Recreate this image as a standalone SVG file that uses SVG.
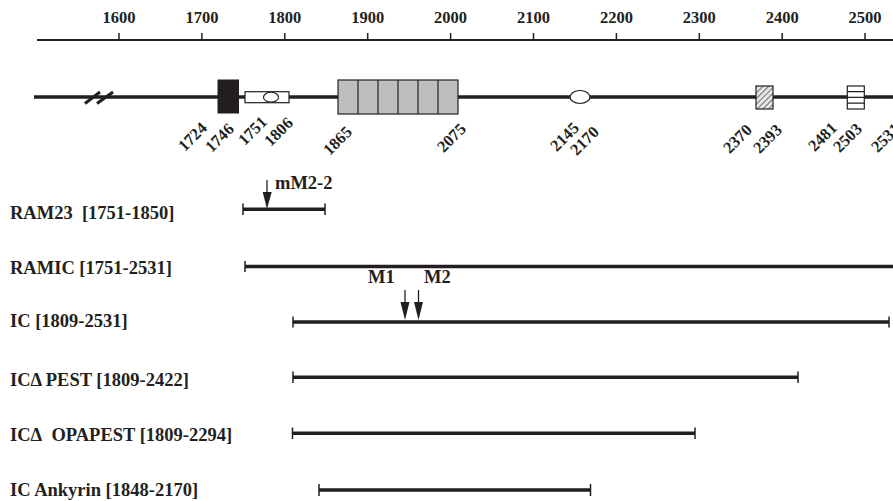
<svg xmlns="http://www.w3.org/2000/svg" width="893" height="501" viewBox="0 0 893 501">
<style>
text{font-family:"Liberation Serif","Times New Roman",serif;font-weight:bold;fill:#231f20}
.ax{font-size:16.5px;text-anchor:middle}
.rot{font-size:16.5px;text-anchor:end}
.lbl{font-size:18.5px}
.ln{stroke:#231f20;fill:none}
.bar{stroke:#231f20;stroke-width:3.5;fill:none}
.tk{stroke:#231f20;stroke-width:1.5;fill:none}
</style>
<defs>
<pattern id="hatch" width="4" height="4" patternUnits="userSpaceOnUse" patternTransform="rotate(45)">
<rect width="4" height="4" fill="#e6e6e6"/>
<line x1="0" y1="0" x2="0" y2="4" stroke="#231f20" stroke-width="1.2"/>
</pattern>
</defs>
<g id="axis">
<line class="ln" x1="37" y1="40" x2="893" y2="40" stroke-width="1.8"/>
<g class="tk">
<line x1="119" y1="33" x2="119" y2="40"/><line x1="201.9" y1="33" x2="201.9" y2="40"/><line x1="284.8" y1="33" x2="284.8" y2="40"/><line x1="367.7" y1="33" x2="367.7" y2="40"/><line x1="450.6" y1="33" x2="450.6" y2="40"/><line x1="533.5" y1="33" x2="533.5" y2="40"/><line x1="616.4" y1="33" x2="616.4" y2="40"/><line x1="699.3" y1="33" x2="699.3" y2="40"/><line x1="782.2" y1="33" x2="782.2" y2="40"/><line x1="865" y1="33" x2="865" y2="40"/>
</g>
<text class="ax" x="119" y="23">1600</text><text class="ax" x="201.9" y="23">1700</text><text class="ax" x="284.8" y="23">1800</text><text class="ax" x="367.7" y="23">1900</text><text class="ax" x="450.6" y="23">2000</text><text class="ax" x="533.5" y="23">2100</text><text class="ax" x="616.4" y="23">2200</text><text class="ax" x="699.3" y="23">2300</text><text class="ax" x="782.2" y="23">2400</text><text class="ax" x="865" y="23">2500</text>
</g>
<g id="protein">
<line class="ln" x1="34" y1="97" x2="893" y2="97" stroke-width="3.5"/>
<line class="ln" x1="85" y1="103.5" x2="100" y2="92" stroke-width="3"/>
<line class="ln" x1="97" y1="103.5" x2="113" y2="92" stroke-width="3"/>
</g>
<g id="domain-1724-1746"><rect x="217.5" y="79.5" width="21.5" height="34" fill="#231f20"/></g>
<g id="domain-1751-1806"><rect x="245" y="91.7" width="44" height="11" fill="#fff" stroke="#231f20" stroke-width="1.2"/><ellipse cx="271" cy="97.2" rx="7.5" ry="5" fill="#fff" stroke="#231f20" stroke-width="1.2"/></g>
<g id="domain-1865-2075"><rect x="338" y="80" width="120" height="34" fill="#bcbec0" stroke="#231f20" stroke-width="1.2"/><path class="ln" stroke-width="1.2" d="M358 80V114M378 80V114M398 80V114M418 80V114M438 80V114"/></g>
<g id="domain-2145-2170"><ellipse cx="580" cy="97" rx="10" ry="6.5" fill="#fff" stroke="#231f20" stroke-width="1.2"/></g>
<g id="domain-2370-2393"><rect x="756" y="86" width="17" height="23" fill="url(#hatch)" stroke="#231f20" stroke-width="1.2"/></g>
<g id="domain-2481-2503"><rect x="847.3" y="86" width="17" height="23" fill="#fff" stroke="#231f20" stroke-width="1.2"/><path class="ln" stroke-width="1.2" d="M847.3 91.7H864.3M847.3 97.3H864.3M847.3 103.2H864.3"/></g>
<g id="positions">
<text class="rot" transform="translate(208,129) rotate(-45)">1724</text>
<text class="rot" transform="translate(235,130) rotate(-45)">1746</text>
<text class="rot" transform="translate(268,123) rotate(-45)">1751</text>
<text class="rot" transform="translate(294,124) rotate(-45)">1806</text>
<text class="rot" transform="translate(353,133) rotate(-45)">1865</text>
<text class="rot" transform="translate(467,130) rotate(-45)">2075</text>
<text class="rot" transform="translate(580,129) rotate(-45)">2145</text>
<text class="rot" transform="translate(600,133) rotate(-45)">2170</text>
<text class="rot" transform="translate(753,131) rotate(-45)">2370</text>
<text class="rot" transform="translate(783,131) rotate(-45)">2393</text>
<text class="rot" transform="translate(838,129) rotate(-45)">2481</text>
<text class="rot" transform="translate(863,130) rotate(-45)">2503</text>
<text class="rot" transform="translate(901,130) rotate(-45)">2531</text>
</g>
<g id="RAM23">
<text class="lbl" x="10" y="219">RAM23&#160; [1751-1850]</text>
<line class="bar" x1="243" y1="209.3" x2="325" y2="209.3"/>
<path class="tk" d="M243 203.5V215M325 203.5V215"/>
<line class="ln" x1="267" y1="180" x2="267" y2="194" stroke-width="1.3"/>
<polygon points="262.7,192 271.7,192 267,209" fill="#231f20"/>
<text class="lbl" x="275" y="189">mM2-2</text>
</g>
<g id="RAMIC">
<text class="lbl" x="10" y="274">RAMIC [1751-2531]</text>
<line class="bar" x1="245" y1="266.5" x2="893" y2="266.5"/>
<path class="tk" d="M245 261V272"/>
</g>
<g id="IC">
<text class="lbl" x="10" y="327">IC [1809-2531]</text>
<line class="bar" x1="293" y1="322" x2="889" y2="322"/>
<path class="tk" d="M293 316.5V327.5M889 316.5V327.5"/>
<line class="ln" x1="405" y1="290" x2="405" y2="304" stroke-width="1.3"/>
<polygon points="400.5,302 409.5,302 405,320" fill="#231f20"/>
<line class="ln" x1="418.5" y1="290" x2="418.5" y2="304" stroke-width="1.3"/>
<polygon points="414,302 423,302 418.5,320" fill="#231f20"/>
<text class="lbl" x="368" y="283">M1</text>
<text class="lbl" x="424" y="283">M2</text>
</g>
<g id="ICdPEST">
<text class="lbl" x="10" y="386">ICΔ PEST [1809-2422]</text>
<line class="bar" x1="293" y1="377.3" x2="798" y2="377.3"/>
<path class="tk" d="M293 371.5V383M798 371.5V383"/>
</g>
<g id="ICdOPAPEST">
<text class="lbl" x="10" y="441">ICΔ&#160; OPAPEST [1809-2294]</text>
<line class="bar" x1="292.5" y1="433.3" x2="695" y2="433.3"/>
<path class="tk" d="M292.5 427.5V439M695 427.5V439"/>
</g>
<g id="ICAnkyrin">
<text class="lbl" x="10" y="496">IC Ankyrin [1848-2170]</text>
<line class="bar" x1="319" y1="490" x2="590.5" y2="490"/>
<path class="tk" d="M319 484V496M590.5 484V496"/>
</g>
</svg>
